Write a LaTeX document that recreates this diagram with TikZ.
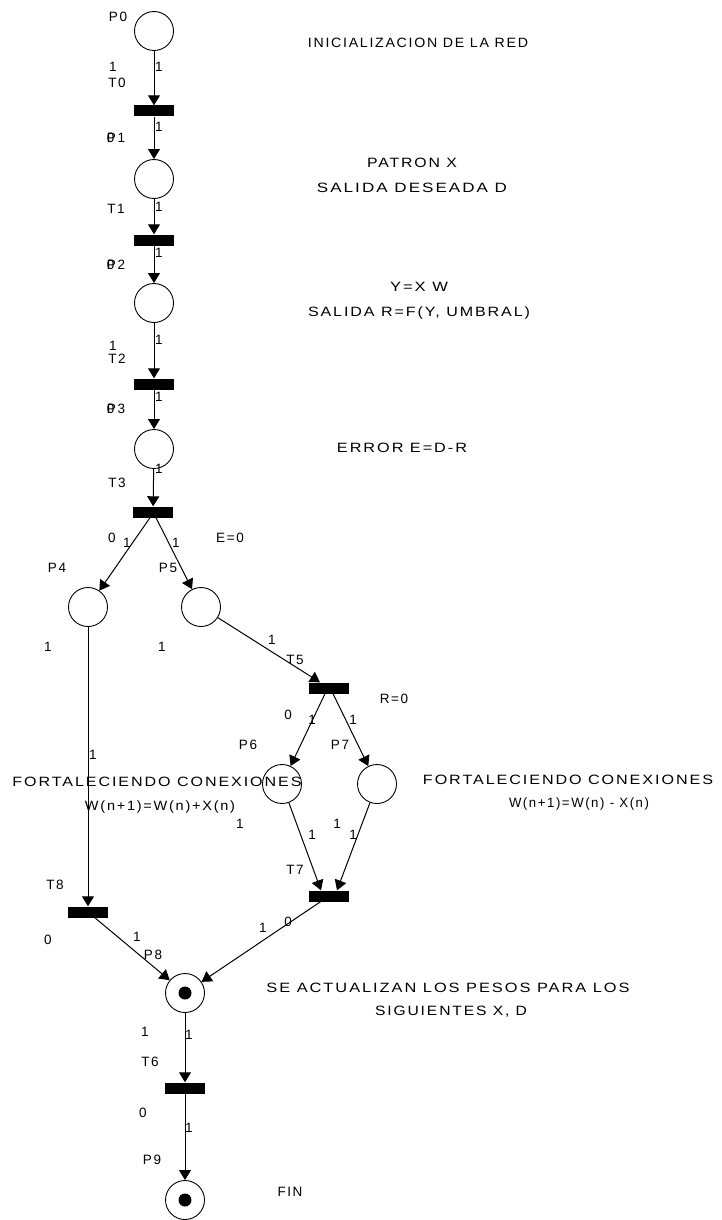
\documentclass[tikz,border=0pt]{standalone}
\usepackage{fontspec}
\setmainfont{Liberation Sans}[LetterSpace=12]
\usetikzlibrary{arrows.meta}
\newcommand\tw[2]{\resizebox{#1pt}{\height}{#2}}
\begin{document}
\begin{tikzpicture}[x=1pt,y=-1pt,
  place/.style={circle,draw,line width=0.9pt,minimum size=39pt,inner sep=0pt},
  trans/.style={rectangle,fill=black,minimum width=40pt,minimum height=11pt,inner sep=0pt},
  arc/.style={draw,line width=1pt,-{Triangle[width=12pt,length=10pt]}},
  lbl/.style={inner sep=0pt,font=\fontsize{13.5}{15}\selectfont},
  token/.style={circle,fill=black,minimum size=13pt,inner sep=0pt}]
\useasboundingbox (0,0) rectangle (721,1220);
% places
\node[place] (P0) at (154,31) {};
\node[place] (P1) at (154,179) {};
\node[place] (P2) at (154,303) {};
\node[place] (P3) at (154,449) {};
\node[place] (P4) at (88,607) {};
\node[place] (P5) at (201,607) {};
\node[place] (P6) at (282,784) {};
\node[place] (P7) at (377,784) {};
\node[place] (P8) at (185,993) {};
\node[place] (P9) at (185,1200) {};
\node[token] (k8) at (P8) {};
\node[token] (k9) at (P9) {};
% transitions
\node[trans] (T0) at (154,111) {};
\node[trans] (T1) at (154,240) {};
\node[trans] (T2) at (154,384) {};
\node[trans] (T3) at (153,512) {};
\node[trans] (T5) at (329,688) {};
\node[trans] (T7) at (329,896) {};
\node[trans] (T8) at (88,912) {};
\node[trans] (T6) at (185,1088) {};
% arcs
\draw[arc] (P0) -- (T0);
\draw[arc] (T0) -- (P1);
\draw[arc] (P1) -- (T1);
\draw[arc] (T1) -- (P2);
\draw[arc] (P2) -- (T2);
\draw[arc] (T2) -- (P3);
\draw[arc] (P3) -- (T3);
\draw[arc] ([xshift=-3pt]T3.south) -- (P4);
\draw[arc] ([xshift=3pt]T3.south) -- (P5);
\draw[arc] (P4) -- (T8);
\draw[arc] (P5) -- (T5);
\draw[arc] ([xshift=-4pt]T5.south) -- (P6);
\draw[arc] ([xshift=4pt]T5.south) -- (P7);
\draw[arc] (P6) -- ([xshift=-8pt]T7.north);
\draw[arc] (P7) -- ([xshift=8pt]T7.north);
\draw[arc] (T8) -- (P8);
\draw[arc] (T7) -- (P8);
\draw[arc] (P8) -- (T6);
\draw[arc] (T6) -- (P9);
% labels of top chain
\node[lbl] (nP0) at (118,17) {P0};
\node[lbl] (a1) at (159,67) {1};
\node[lbl] (m0) at (113,67) {1};
\node[lbl] (nT0) at (117,83) {T0};
\node[lbl] (a2) at (159,127) {1};
\node[lbl] (nP1) at (116,138) {\rlap{0}P1};
\node[lbl] (nT1) at (116,209) {T1};
\node[lbl] (a3) at (159,207) {1};
\node[lbl] (a4) at (159,253) {1};
\node[lbl] (nP2) at (116,265) {\rlap{0}P2};
\node[lbl] (a5) at (159,340) {1};
\node[lbl] (m3) at (113,346) {1};
\node[lbl] (nT2) at (117,359) {T2};
\node[lbl] (a6) at (159,397) {1};
\node[lbl] (nP3) at (116,409) {\rlap{0}P3};
\node[lbl] (a7) at (159,469) {1};
\node[lbl] (nT3) at (117,483) {T3};
% branch labels
\node[lbl] (m5) at (112,538) {0};
\node[lbl] (a8) at (127,543) {1};
\node[lbl] (a9) at (176,543) {1};
\node[lbl] (e0) at (230,538) {E=0};
\node[lbl] (nP4) at (57,568) {P4};
\node[lbl] (nP5) at (168,568) {P5};
\node[lbl] (m6) at (48,647) {1};
\node[lbl] (m7) at (162,647) {1};
\node[lbl] (a10) at (272,640) {1};
\node[lbl] (nT5) at (295,660) {T5};
\node[lbl] (r0) at (394,699) {R=0};
\node[lbl] (m8) at (288,715) {0};
\node[lbl] (a11) at (312,720) {1};
\node[lbl] (a12) at (353,720) {1};
\node[lbl] (nP6) at (248,745) {P6};
\node[lbl] (nP7) at (340,745) {P7};
\node[lbl] (a13) at (93,755) {1};
\node[lbl] (m9) at (240,824) {1};
\node[lbl] (a14) at (312,835) {1};
\node[lbl] (m10) at (337,824) {1};
\node[lbl] (a15) at (353,835) {1};
\node[lbl] (nT8) at (55,885) {T8};
\node[lbl] (nT7) at (295,870) {T7};
\node[lbl] (m11) at (48,940) {0};
\node[lbl] (a16) at (137,937) {1};
\node[lbl] (nP8) at (153,955) {P8};
\node[lbl] (a17) at (263,928) {1};
\node[lbl] (m12) at (288,922) {0};
\node[lbl] (m13) at (145,1032) {1};
\node[lbl] (a18) at (189,1035) {1};
\node[lbl] (nT6) at (150,1062) {T6};
\node[lbl] (m14) at (143,1113) {0};
\node[lbl] (a19) at (189,1128) {1};
\node[lbl] (nP9) at (152,1160) {P9};
% descriptions
\node[lbl] (d1) at (418,43) {\tw{220}{INICIALIZACION DE LA RED}};
\node[lbl] (d2) at (412,163) {\tw{90}{PATRON X}};
\node[lbl] (d3) at (412,188) {\tw{190}{SALIDA DESEADA D}};
\node[lbl] (d4) at (419,287) {\tw{58}{Y=X W}};
\node[lbl] (d5) at (419,313) {\tw{222}{SALIDA R=F(Y, UMBRAL)}};
\node[lbl] (d6) at (402,448) {\tw{130}{ERROR E=D-R}};
\node[lbl] (d7) at (157,782) {\tw{289}{FORTALECIENDO CONEXIONES}};
\node[lbl] (d8) at (160,807) {\tw{150}{W(n+1)=W(n)+X(n)}};
\node[lbl] (d9) at (568,780) {\tw{290}{FORTALECIENDO CONEXIONES}};
\node[lbl] (d10) at (579,804) {\tw{140}{W(n+1)=W(n) - X(n)}};
\node[lbl] (d11) at (448,988) {\tw{363}{SE ACTUALIZAN LOS PESOS PARA LOS}};
\node[lbl] (d12) at (451,1012) {\tw{152}{SIGUIENTES X, D}};
\node[lbl] (d13) at (290,1192) {FIN};
\end{tikzpicture}
\end{document}
